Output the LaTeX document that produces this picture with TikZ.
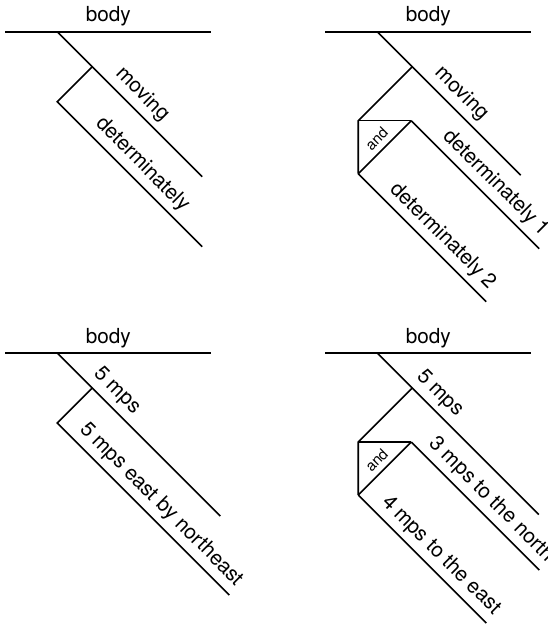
\documentclass[tikz,border=0pt]{standalone}
\usepackage{fontspec}
\setmainfont{TeX Gyre Heros}
\usepackage{tikz}

\begin{document}
\begin{tikzpicture}[font=\fontsize{11.8}{14}\selectfont,
		rule/.style={line width=0.9pt},
		word/.style={sloped,above,inner sep=3pt},
		conj/.style={sloped,above,inner sep=3pt,font=\fontsize{8.5}{10}\selectfont}]
	\useasboundingbox (0,0) rectangle (10.94,12.5);
	\clip (0,0) rectangle (10.94,12.5);
	% body moving determinately
	\begin{scope}[shift={(1.145,11.866)}]
		\coordinate (a0) at (0,0);
		\coordinate (aL) at (-1.04,0);
		\coordinate (aR) at (3.08,0);
		\coordinate (aj) at (0.7,-0.7);
		\coordinate (ae) at (2.9,-2.9);
		\coordinate (ab) at (0,-1.4);
		\coordinate (af) at (2.9,-4.3);
		\draw[rule,line width=1pt] (aL) -- node[above,inner sep=2.5pt] (a-body) {body} (aR);
		\draw[rule] (a0) -- node[word,pos=0.51] (a-mov) {moving} (ae);
		\draw[rule] (aj) -- (ab) -- node[word,pos=0.51] (a-det) {determinately} (af);
	\end{scope}
	% body moving determinately 1 and determinately 2
	\begin{scope}[shift={(7.545,11.866)}]
		\coordinate (b0) at (0,0);
		\coordinate (bL) at (-1.04,0);
		\coordinate (bR) at (3.08,0);
		\coordinate (bj) at (0.7,-0.7);
		\coordinate (be) at (2.87,-2.87);
		\coordinate (bA) at (-0.38,-1.78);
		\coordinate (bB) at (0.68,-1.78);
		\coordinate (bC) at (-0.38,-2.84);
		\coordinate (bBe) at (3.24,-4.34);
		\coordinate (bCe) at (2.18,-5.40);
		\draw[rule,line width=1pt] (bL) -- node[above,inner sep=2.5pt] (b-body) {body} (bR);
		\draw[rule] (b0) -- node[word,pos=0.51] (b-mov) {moving} (be);
		\draw[rule] (bj) -- (bA) -- (bC);
		\draw[rule] (bA) -- (bB);
		\draw[rule] (bC) -- node[conj,midway] (b-and) {and} (bB);
		\draw[rule] (bB) -- node[word,pos=0.575] (b-det1) {determinately 1} (bBe);
		\draw[rule] (bC) -- node[word,pos=0.575] (b-det2) {determinately 2} (bCe);
	\end{scope}
	% body 5 mps, 5 mps east by northeast
	\begin{scope}[shift={(1.145,5.44)}]
		\coordinate (c0) at (0,0);
		\coordinate (cL) at (-1.04,0);
		\coordinate (cR) at (3.08,0);
		\coordinate (cj) at (0.7,-0.7);
		\coordinate (ce) at (3.26,-3.26);
		\coordinate (cb) at (0,-1.4);
		\coordinate (cf) at (3.44,-4.84);
		\draw[rule,line width=1pt] (cL) -- node[above,inner sep=2.5pt] (c-body) {body} (cR);
		\draw[rule] (c0) -- node[word,pos=0.30] (c-spd) {5 mps} (ce);
		\draw[rule] (cj) -- (cb) -- node[word,pos=0.54] (c-vel) {5 mps east by northeast} (cf);
	\end{scope}
	% body 5 mps, 3 mps to the north and 4 mps to the east
	\begin{scope}[shift={(7.545,5.44)}]
		\coordinate (d0) at (0,0);
		\coordinate (dL) at (-1.04,0);
		\coordinate (dR) at (3.08,0);
		\coordinate (dj) at (0.7,-0.7);
		\coordinate (de) at (3.23,-3.23);
		\coordinate (dA) at (-0.38,-1.78);
		\coordinate (dB) at (0.68,-1.78);
		\coordinate (dC) at (-0.38,-2.84);
		\coordinate (dBe) at (3.24,-4.34);
		\coordinate (dCe) at (2.18,-5.40);
		\draw[rule,line width=1pt] (dL) -- node[above,inner sep=2.5pt] (d-body) {body} (dR);
		\draw[rule] (d0) -- node[word,pos=0.32] (d-spd) {5 mps} (de);
		\draw[rule] (dj) -- (dA) -- (dC);
		\draw[rule] (dA) -- (dB);
		\draw[rule] (dC) -- node[conj,midway] (d-and) {and} (dB);
		\draw[rule] (dB) -- node[word,pos=0.54] (d-north) {3 mps to the north} (dBe);
		\draw[rule] (dC) -- node[word,pos=0.56] (d-east) {4 mps to the east} (dCe);
	\end{scope}
\end{tikzpicture}
\end{document}
